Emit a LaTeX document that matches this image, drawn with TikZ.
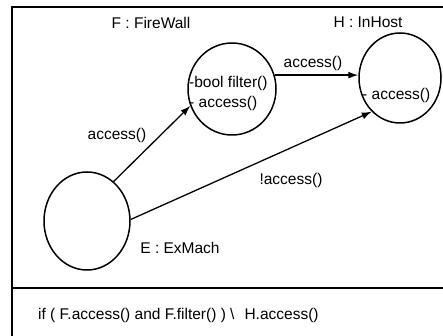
\documentclass[tikz,border=0pt]{standalone}
\usepackage{fontspec}
\setmainfont{Liberation Sans}
\usepackage{tikz}
\usetikzlibrary{positioning, arrows.meta, shapes.geometric}
\tikzstyle{arrow} = [line width=1.3pt, black, -{Latex[length=10pt,width=7pt]}]
\tikzstyle{obj} = [draw, line width=1.5pt, ellipse, inner sep=0pt]
\tikzstyle{lbl} = [inner sep=0pt, font=\fontsize{15.5}{18}\selectfont]

\begin{document}
\begin{tikzpicture}[x=1pt, y=-1pt]
        \useasboundingbox (0,0) rectangle (443,336);

        % Frame
        \draw[line width=1.5pt] (443,7) -- (12,7) -- (12,336);
        \draw[line width=1.5pt] (12,288) -- (443,288);

        % Objects
        \node[obj, minimum width=88pt, minimum height=92pt] (F) at (232,89) {};
        \node[lbl] (Fname) at (151,23) {F : FireWall};
        \node[lbl, anchor=west] (Ffilter) at (189,83) {-bool filter()};
        \node[lbl, anchor=west] (Faccess) at (189,103) {- access()};

        \node[obj, minimum width=82pt, minimum height=90pt] (H) at (400,78) {};
        \node[lbl] (Hname) at (368,22) {H : InHost};
        \node[lbl, anchor=west] (Haccess) at (362,95) {- access()};

        \node[obj, minimum width=86pt, minimum height=98pt] (E) at (87,221) {};
        \node[lbl] (Ename) at (180,248) {E : ExMach};

        % Messages
        \draw[arrow] (E.56) -- (F.202);
        \node[lbl] (m1) at (117,135) {access()};

        \draw[arrow] (F.18) -- (F.18 -| H.west);
        \node[lbl] (m2) at (313,63) {access()};

        \draw[arrow] (E.2) -- (H.230);
        \node[lbl] (m3) at (291,180) {!access()};

        % Condition
        \node[lbl, anchor=west] (cond) at (38,315) {if ( F.access() and F.filter() ) \textbackslash{}\hspace{10pt}H.access()};

      \end{tikzpicture}
\end{document}
